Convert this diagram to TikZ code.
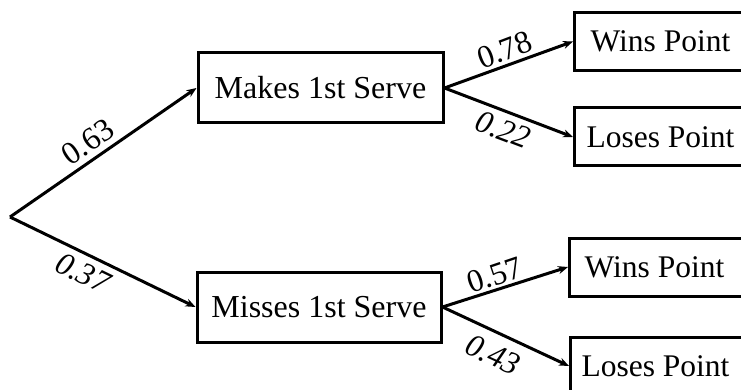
\documentclass[tikz,border=0pt]{standalone}
\usepackage{fontspec}
\setmainfont{Liberation Serif}
\usetikzlibrary{arrows.meta}
\begin{document}
\begin{tikzpicture}[x=1pt,y=-1pt,
  box/.style={draw,line width=3pt,font=\fontsize{32}{37}\selectfont,inner sep=0pt},
  endbox/.style={box,anchor=west,minimum width=200pt,minimum height=58pt,font=\fontsize{31.5}{36}\selectfont},
  link/.style={line width=3pt,-{Stealth[length=10pt,width=8pt]}},
  prob/.style={font=\fontsize{32}{36}\selectfont,inner sep=0pt},
  probdown/.style={prob,font=\fontsize{32}{36}\selectfont\itshape}]
\useasboundingbox (0,0) rectangle (741,390);
\coordinate (root) at (10,217);
\node[box,minimum width=245pt,minimum height=70pt] (mk) at (320.5,88) {Makes 1st Serve};
\node[box,minimum width=244pt,minimum height=70pt] (ms) at (319,307) {Misses 1st Serve};
\node[endbox] (w1) at (573,41.5) {Wins Point\hspace*{28pt}};
\node[endbox] (l1) at (573,137) {Loses Point\hspace*{28pt}};
\node[endbox] (w2) at (568,267) {Wins Point\hspace*{30pt}};
\node[endbox] (l2) at (569,366) {Loses Point\hspace*{30pt}};
\draw[link] (root) -- (mk.west);
\draw[link] (root) -- (ms.west);
\draw[link] (mk.east) -- (w1.west);
\draw[link] (mk.east) -- (l1.west);
\draw[link] (ms.east) -- (w2.west);
\draw[link] (ms.east) -- (l2.west);
\node[prob,rotate=33.8] (p63) at (88,142) {0.63};
\node[probdown,rotate=-25.9] (p37) at (83,273) {0.37};
\node[prob,rotate=20.7] (p78) at (505,50) {0.78};
\node[probdown,rotate=-20.7] (p22) at (503,130) {0.22};
\node[prob,rotate=18.7] (p57) at (495,275) {0.57};
\node[probdown,rotate=-24.5] (p43) at (493,355) {0.43};
\end{tikzpicture}
\end{document}
